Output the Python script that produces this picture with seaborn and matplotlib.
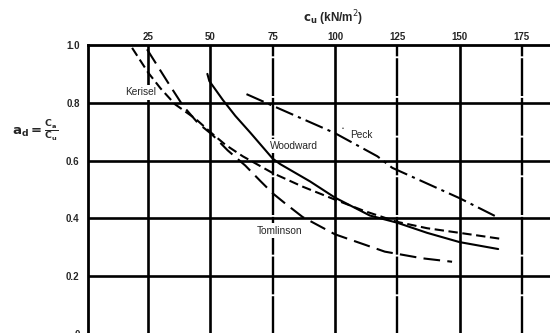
import matplotlib
matplotlib.use("Agg")
import matplotlib.pyplot as plt
import seaborn as sns
import pandas as pd

# ---- data ----
kerisel_x = [18.6, 25, 30, 35.8, 44, 50.5, 56, 63, 75, 87, 100, 112, 125, 137, 150, 166]
kerisel_y = [0.99, 0.905, 0.85, 0.795, 0.745, 0.695, 0.655, 0.615, 0.557, 0.51, 0.465, 0.425, 0.388, 0.366, 0.35, 0.33]

woodward_x = [48.8, 49.6, 50.7, 55, 60, 66, 75, 78, 90, 100, 114, 125, 137, 150, 165.5]
woodward_y = [0.9, 0.875, 0.862, 0.81, 0.755, 0.697, 0.607, 0.588, 0.528, 0.472, 0.41, 0.385, 0.35, 0.318, 0.294]

tomlinson_x = [24.6, 33, 39, 45, 50.7, 57, 64, 70, 75, 80, 87, 100, 110, 120, 135, 147]
tomlinson_y = [0.985, 0.87, 0.79, 0.73, 0.69, 0.635, 0.583, 0.53, 0.487, 0.452, 0.405, 0.345, 0.315, 0.285, 0.262, 0.25]

peck_x = [64.5, 76, 100, 117, 123, 150, 165]
peck_y = [0.83, 0.786, 0.695, 0.615, 0.575, 0.47, 0.405]

x_ticks = [25, 50, 75, 100, 125, 150, 175]
y_ticks = [0, 0.2, 0.4, 0.6, 0.8, 1.0]
y_tick_labels = ["0", "0.2", "0.4", "0.6", "0.8", "1.0"]

curves = [
    ("Kerisel", kerisel_x, kerisel_y, (4.5, 2.2)),
    ("Woodward", woodward_x, woodward_y, None),
    ("Tomlinson", tomlinson_x, tomlinson_y, (8, 3.5)),
    ("Peck", peck_x, peck_y, (9, 2.5, 1.5, 2.5)),
]

sns.set_style("white")
plt.rcParams["font.family"] = ["Liberation Sans", "DejaVu Sans"]

fig = plt.figure(figsize=(5.5, 3.33), dpi=100)
ax = fig.add_axes([88 / 550, -1 / 333, 462 / 550, 289 / 333])
ax.set_xlim(0.9, 186.3)
ax.set_ylim(0, 1.0)

# grid lines
for xv in x_ticks:
    if xv in (75, 125, 175):
        ax.axvline(xv, color="black", lw=1.7, dashes=(16, 0.8), zorder=1)
    else:
        ax.axvline(xv, color="black", lw=1.9, zorder=1)
for yv in [0.2, 0.4, 0.6, 0.8]:
    ax.axhline(yv, color="black", lw=1.9, zorder=1)

for name, xs, ys, dash in curves:
    df = pd.DataFrame({"x": xs, "y": ys})
    sns.lineplot(data=df, x="x", y="y", color="black", lw=1.5, sort=False,
                 ax=ax, zorder=3)
    if dash is not None:
        ax.lines[-1].set_dashes(dash)

# spines and ticks
for s in ["right", "bottom"]:
    ax.spines[s].set_visible(False)
for s in ["left", "top"]:
    ax.spines[s].set_linewidth(2.0)
    ax.spines[s].set_color("black")
ax.xaxis.tick_top()
ax.set_xticks(x_ticks)
ax.set_xticklabels([str(v) for v in x_ticks], fontsize=7, fontweight="bold")
ax.set_yticks(y_ticks)
ax.set_yticklabels(y_tick_labels, fontsize=7, fontweight="bold")
ax.tick_params(length=0, pad=6)
ax.tick_params(axis="x", pad=2)
ax.set_xlabel("")
ax.set_ylabel("")

# curve labels (white background interrupts the grid lines, as in the original)
box = dict(facecolor="white", edgecolor="none", pad=1.5)
ax.text(15.6, 0.836, "Kerisel", fontsize=7.3, ha="left", va="center", bbox=box, zorder=2)
ax.text(73.8, 0.65, "Woodward", fontsize=7.3, ha="left", va="center", bbox=box, zorder=2)
ax.text(68.7, 0.358, "Tomlinson", fontsize=7.3, ha="left", va="center", bbox=box, zorder=2)
ax.text(106, 0.69, "Peck", fontsize=7.3, ha="left", va="center", bbox=box, zorder=2)
ax.text(103, 0.71, "\u2022", fontsize=4, ha="center", va="center", zorder=2)

# title and y label
fig.text(333 / 550, 1 - 18 / 333, r"$\mathbf{c_u}$ (kN/m$^2$)", fontsize=8.5,
         fontweight="bold", ha="center", va="center")
fig.text(35 / 550, 1 - 131 / 333, r"$\mathbf{a_d = \frac{C_a}{C_u}}$", fontsize=9.5,
         ha="center", va="center")

fig.savefig("out.png", dpi=100)
